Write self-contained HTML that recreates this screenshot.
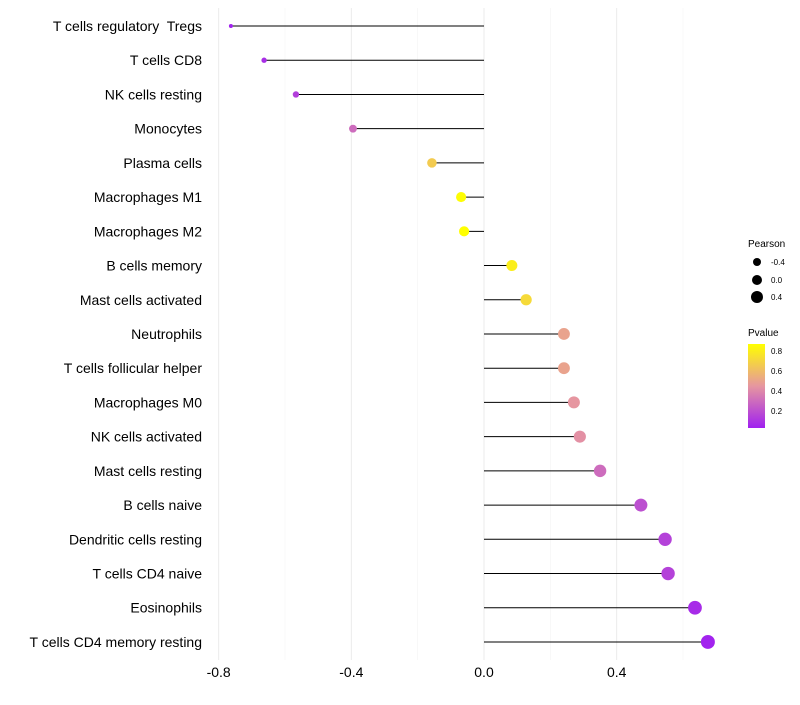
<!DOCTYPE html>
<html><head><meta charset="utf-8"><style>
body{margin:0;background:#fff;font-family:"Liberation Sans",sans-serif;}
svg text{font-family:"Liberation Sans",sans-serif;}
</style></head><body>
<svg id="chart" width="800" height="700" xmlns="http://www.w3.org/2000/svg">
<defs><linearGradient id="pg" x1="0" y1="1" x2="0" y2="0">
<stop offset="0" stop-color="#A020F0"/><stop offset="0.5" stop-color="#E696A0"/><stop offset="1" stop-color="#FFFF00"/></linearGradient></defs>
<g id="grid"></g>
<g id="marks"></g>
<g id="ylabels"></g>
<g id="xlabels"></g>
<g>
<text x="748" y="247" font-size="10" fill="#000">Pearson</text>
<circle cx="757" cy="262" r="4" fill="#000"/>
<text x="771" y="265" font-size="8">-0.4</text>
<circle cx="757" cy="280" r="5" fill="#000"/>
<text x="771" y="283" font-size="8">0.0</text>
<circle cx="757" cy="297" r="6" fill="#000"/>
<text x="771" y="300" font-size="8">0.4</text>
</g>
<g>
<text x="748" y="336" font-size="10" fill="#000">Pvalue</text>
<rect x="748" y="344" width="17" height="84" fill="url(#pg)"/>
<text x="771" y="354" font-size="8">0.8</text>
<text x="771" y="374" font-size="8">0.6</text>
<text x="771" y="394" font-size="8">0.4</text>
<text x="771" y="414" font-size="8">0.2</text>
</g>
</svg>
<script>
const categories=["T cells regulatory\u00a0 Tregs","T cells CD8","NK cells resting","Monocytes","Plasma cells","Macrophages M1","Macrophages M2","B cells memory","Mast cells activated","Neutrophils","T cells follicular helper","Macrophages M0","NK cells activated","Mast cells resting","B cells naive","Dendritic cells resting","T cells CD4 naive","Eosinophils","T cells CD4 memory resting"];
const pearson=[-0.763,-0.663,-0.567,-0.395,-0.157,-0.069,-0.060,0.084,0.127,0.241,0.241,0.271,0.289,0.350,0.473,0.546,0.555,0.636,0.675];
const pvalue=[0.04,0.08,0.14,0.3,0.66,0.86,0.87,0.8,0.72,0.5,0.5,0.45,0.43,0.3,0.2,0.15,0.15,0.07,0.04];
const xTicks=[-0.8,-0.4,0.0,0.4];
const xTickLabels=["-0.8","-0.4","0.0","0.4"];
const minorTicks=[-0.6,-0.2,0.2,0.6];
const NS="http://www.w3.org/2000/svg";
const x=v=>484+v*331.7;
const y=i=>26+i*34.22;
const rad=v=>Math.sqrt(4+31*Math.max(0,v+0.765));
function lerp(a,b,t){return a.map((c,i)=>Math.round(c+(b[i]-c)*t));}
function col(p){const t=Math.max(0,Math.min(1,(p-0.03)/0.84));
const P=[160,32,240],M=[230,150,160],Y=[255,255,0];
const c=t<0.5?lerp(P,M,t/0.5):lerp(M,Y,(t-0.5)/0.5);return `rgb(${c[0]},${c[1]},${c[2]})`;}
function mk(tag,attrs,parent){const e=document.createElementNS(NS,tag);for(const k in attrs)e.setAttribute(k,attrs[k]);document.getElementById(parent).appendChild(e);return e;}
minorTicks.forEach(v=>{const l=mk('line',{x1:x(v),x2:x(v),y1:8,y2:660,stroke:'#f4f4f4','stroke-width':0.6},'grid');

});
xTicks.forEach((v,i)=>{const l=mk('line',{x1:x(v),x2:x(v),y1:8,y2:660,stroke:'#ebebeb','stroke-width':1},'grid');


const t=mk('text',{x:x(v),y:677,'font-size':14,'text-anchor':'middle',fill:'#000'},'xlabels');t.textContent=xTickLabels[i];

});
categories.forEach((c,i)=>{
const t=mk('text',{x:202,y:y(i)+5,'font-size':14,'text-anchor':'end',fill:'#000'},'ylabels');t.textContent=c;


const l=mk('line',{x1:x(0),x2:x(pearson[i]),y1:y(i),y2:y(i),stroke:'#000','stroke-width':1},'marks');


const p=mk('circle',{cx:x(pearson[i]),cy:y(i),r:rad(pearson[i]),fill:col(pvalue[i])},'marks');


});
</script>
</body></html>
